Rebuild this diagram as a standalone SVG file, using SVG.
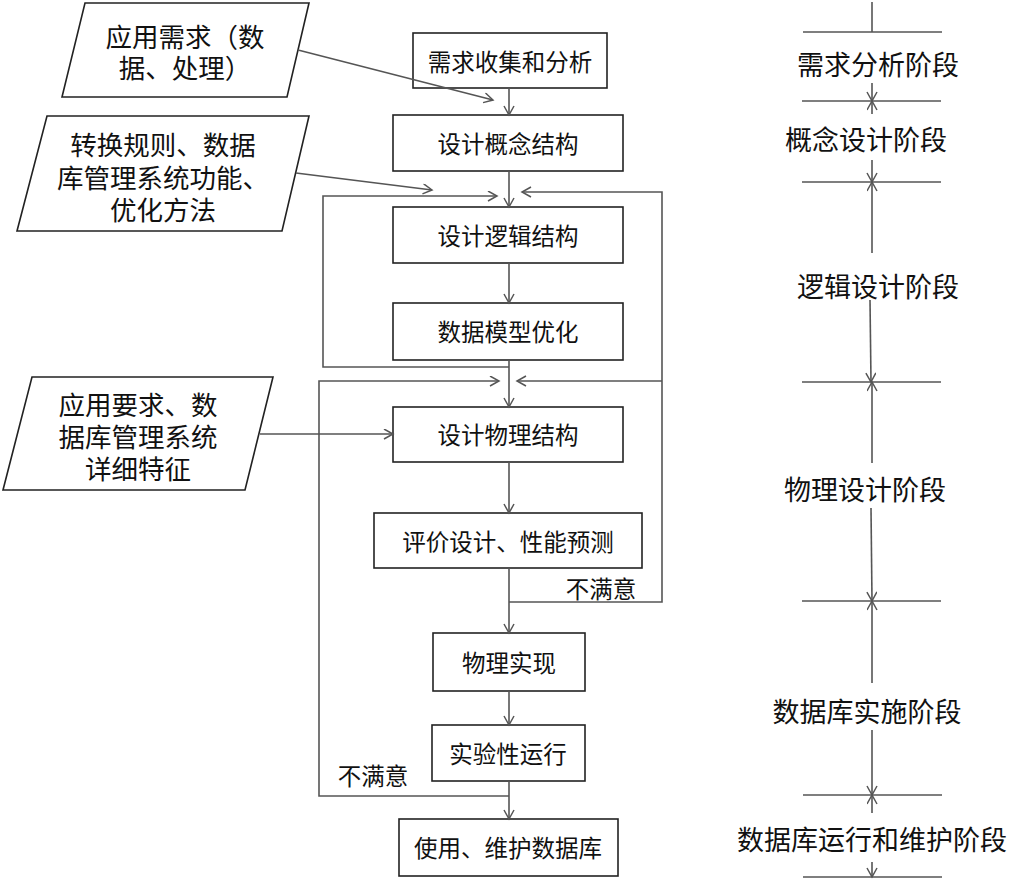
<svg xmlns="http://www.w3.org/2000/svg" width="1015" height="883" viewBox="0 0 1015 883">
<defs>
<marker id="arr" markerUnits="userSpaceOnUse" markerWidth="12" markerHeight="12" refX="10" refY="5.5" orient="auto">
<path d="M1,0.5 L10,5.5 L1,10.5" fill="none" stroke="#555" stroke-width="1.5"/>
</marker>
<style>
.box{fill:#fff;stroke:#222;stroke-width:1.6}
.para{fill:#fff;stroke:#222;stroke-width:1.6}
.t{font-family:"Noto Sans CJK SC","Noto Sans",sans-serif;fill:#111;text-anchor:middle;dominant-baseline:central}
.bt{font-size:23.5px}
.pt{font-size:26.5px}
.rt{font-size:27px}
.ln{fill:none;stroke:#555;stroke-width:1.6}
.a{marker-end:url(#arr)}
</style>
</defs>
<rect width="1015" height="883" fill="#fff"/>

<g id="input1">
<polygon class="para" points="85,3 309,3 287,97 62,97"/>
<text class="t pt" x="185" y="35">应用需求（数</text>
<text class="t pt" x="185" y="66">据、处理）</text>
</g>
<g id="input2">
<polygon class="para" points="47,116 309,116 282,231 17,231"/>
<text class="t pt" x="163" y="143">转换规则、数据</text>
<text class="t pt" x="163" y="176">库管理系统功能、</text>
<text class="t pt" x="163" y="208">优化方法</text>
</g>
<g id="input3">
<polygon class="para" points="32,377 273,377 245,490 3,490"/>
<text class="t pt" x="138" y="403">应用要求、数</text>
<text class="t pt" x="138" y="435">据库管理系统</text>
<text class="t pt" x="138" y="467">详细特征</text>
</g>

<g id="n1"><rect class="box" x="413" y="33" width="194" height="55"/><text class="t bt" x="510" y="61">需求收集和分析</text></g>
<g id="n2"><rect class="box" x="393" y="115" width="230" height="56"/><text class="t bt" x="508" y="143">设计概念结构</text></g>
<g id="n3"><rect class="box" x="393" y="207" width="230" height="56"/><text class="t bt" x="508" y="235">设计逻辑结构</text></g>
<g id="n4"><rect class="box" x="393" y="303" width="230" height="57"/><text class="t bt" x="508" y="331">数据模型优化</text></g>
<g id="n5"><rect class="box" x="393" y="407" width="230" height="55"/><text class="t bt" x="508" y="434">设计物理结构</text></g>
<g id="n6"><rect class="box" x="374" y="513" width="268" height="55"/><text class="t bt" x="508" y="541">评价设计、性能预测</text></g>
<g id="n7"><rect class="box" x="433" y="633" width="152" height="58"/><text class="t bt" x="509" y="662">物理实现</text></g>
<g id="n8"><rect class="box" x="432" y="725" width="153" height="56"/><text class="t bt" x="508" y="753">实验性运行</text></g>
<g id="n9"><rect class="box" x="399" y="819" width="219" height="57"/><text class="t bt" x="508" y="847">使用、维护数据库</text></g>

<g id="connectors">
<line class="ln a" x1="298" y1="50" x2="493" y2="100"/>
<line class="ln a" x1="509" y1="88" x2="509" y2="115"/>
<line class="ln a" x1="509" y1="171" x2="509" y2="207"/>
<line class="ln a" x1="509" y1="263" x2="509" y2="303"/>
<line class="ln a" x1="296" y1="173" x2="432" y2="190"/>
<polyline class="ln a" points="509,367 323,367 323,196 497,196"/>
<polyline class="ln a" points="509,602 662,602 662,192 522,192"/>
<line class="ln a" x1="662" y1="381" x2="517" y2="381"/>
<polyline class="ln a" points="509,796 319,796 319,381 499,381"/>
<line class="ln a" x1="509" y1="360" x2="509" y2="407"/>
<line class="ln a" x1="509" y1="462" x2="509" y2="513"/>
<line class="ln a" x1="509" y1="568" x2="509" y2="633"/>
<line class="ln a" x1="509" y1="691" x2="509" y2="725"/>
<line class="ln a" x1="509" y1="781" x2="509" y2="819"/>
<line class="ln a" x1="260" y1="434" x2="393" y2="434"/>
<text class="t bt" x="601" y="588">不满意</text>
<text class="t bt" x="373" y="775">不满意</text>
</g>

<g id="phases">
<line class="ln" x1="872" y1="2" x2="872" y2="32"/>
<line class="ln" x1="803" y1="32" x2="942" y2="32"/>
<text class="t rt" x="878" y="63">需求分析阶段</text>
<line class="ln" x1="802" y1="101" x2="941" y2="101"/>
<line class="ln a" x1="872" y1="83" x2="872" y2="101"/>
<line class="ln a" x1="872" y1="114" x2="872" y2="101"/>
<text class="t rt" x="866" y="138">概念设计阶段</text>
<line class="ln" x1="802" y1="182" x2="941" y2="182"/>
<line class="ln a" x1="872" y1="160" x2="872" y2="182"/>
<line class="ln a" x1="872" y1="253" x2="872" y2="182"/>
<text class="t rt" x="878" y="285">逻辑设计阶段</text>
<line class="ln" x1="802" y1="382" x2="941" y2="382"/>
<line class="ln a" x1="870" y1="300" x2="871" y2="382"/>
<line class="ln a" x1="872" y1="463" x2="872" y2="382"/>
<text class="t rt" x="865" y="488">物理设计阶段</text>
<line class="ln" x1="802" y1="601" x2="941" y2="601"/>
<line class="ln a" x1="871" y1="508" x2="872" y2="601"/>
<line class="ln a" x1="872" y1="683" x2="872" y2="601"/>
<text class="t rt" x="867" y="710">数据库实施阶段</text>
<line class="ln" x1="803" y1="795" x2="942" y2="795"/>
<line class="ln a" x1="872" y1="730" x2="872" y2="795"/>
<line class="ln a" x1="872" y1="813" x2="872" y2="795"/>
<text class="t rt" x="872" y="838">数据库运行和维护阶段</text>
<line class="ln" x1="803" y1="877" x2="942" y2="877"/>
<line class="ln a" x1="872" y1="862" x2="872" y2="877"/>
</g>
</svg>
